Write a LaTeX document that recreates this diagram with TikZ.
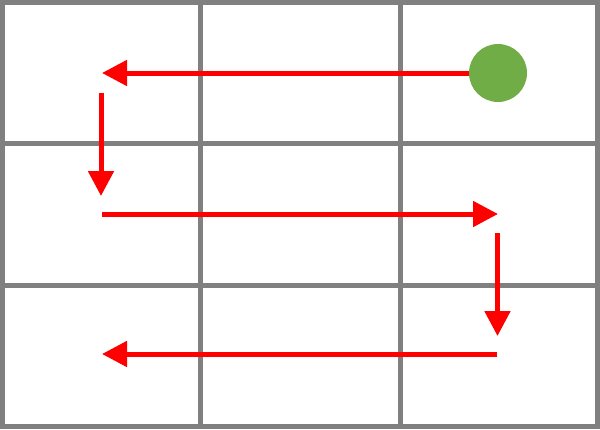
\documentclass[tikz,border=0pt]{standalone}
\usetikzlibrary{arrows.meta}

\definecolor{gridgray}{RGB}{128,128,128}
\definecolor{pathred}{RGB}{255,0,0}
\definecolor{startgreen}{RGB}{112,173,71}

\begin{document}
\begin{tikzpicture}[x=1pt,y=-1pt,
  gridline/.style={draw=gridgray,line width=5pt},
  move/.style={draw=pathred,line width=5pt,
    -{Triangle[length=25pt,width=25pt]}},
  startdot/.style={circle,fill=startgreen,minimum size=58pt,inner sep=0pt}]
  \useasboundingbox (0,0) rectangle (600,429);
  \fill[white] (0,0) rectangle (600,429);
  % grid
  \foreach \x in {200,400}
    \draw[gridline] (\x,0) -- (\x,429);
  \foreach \y in {143.5,285.5}
    \draw[gridline] (0,\y) -- (600,\y);
  \draw[gridline] (2.5,2.5) rectangle (597.5,426.5);
  % path
  \node[startdot] (start) at (498,73) {};
  \coordinate (end1) at (102,73);
  \coordinate (top2) at (101,93);
  \coordinate (end2) at (101,196);
  \coordinate (from3) at (102,214);
  \coordinate (end3) at (498,214);
  \coordinate (top4) at (497.5,233);
  \coordinate (end4) at (497.5,336);
  \coordinate (from5) at (497,354);
  \coordinate (end5) at (102,354);
  \draw[move] (start.west) -- (end1);
  \draw[move] (top2) -- (end2);
  \draw[move] (from3) -- (end3);
  \draw[move] (top4) -- (end4);
  \draw[move] (from5) -- (end5);
\end{tikzpicture}
\end{document}
